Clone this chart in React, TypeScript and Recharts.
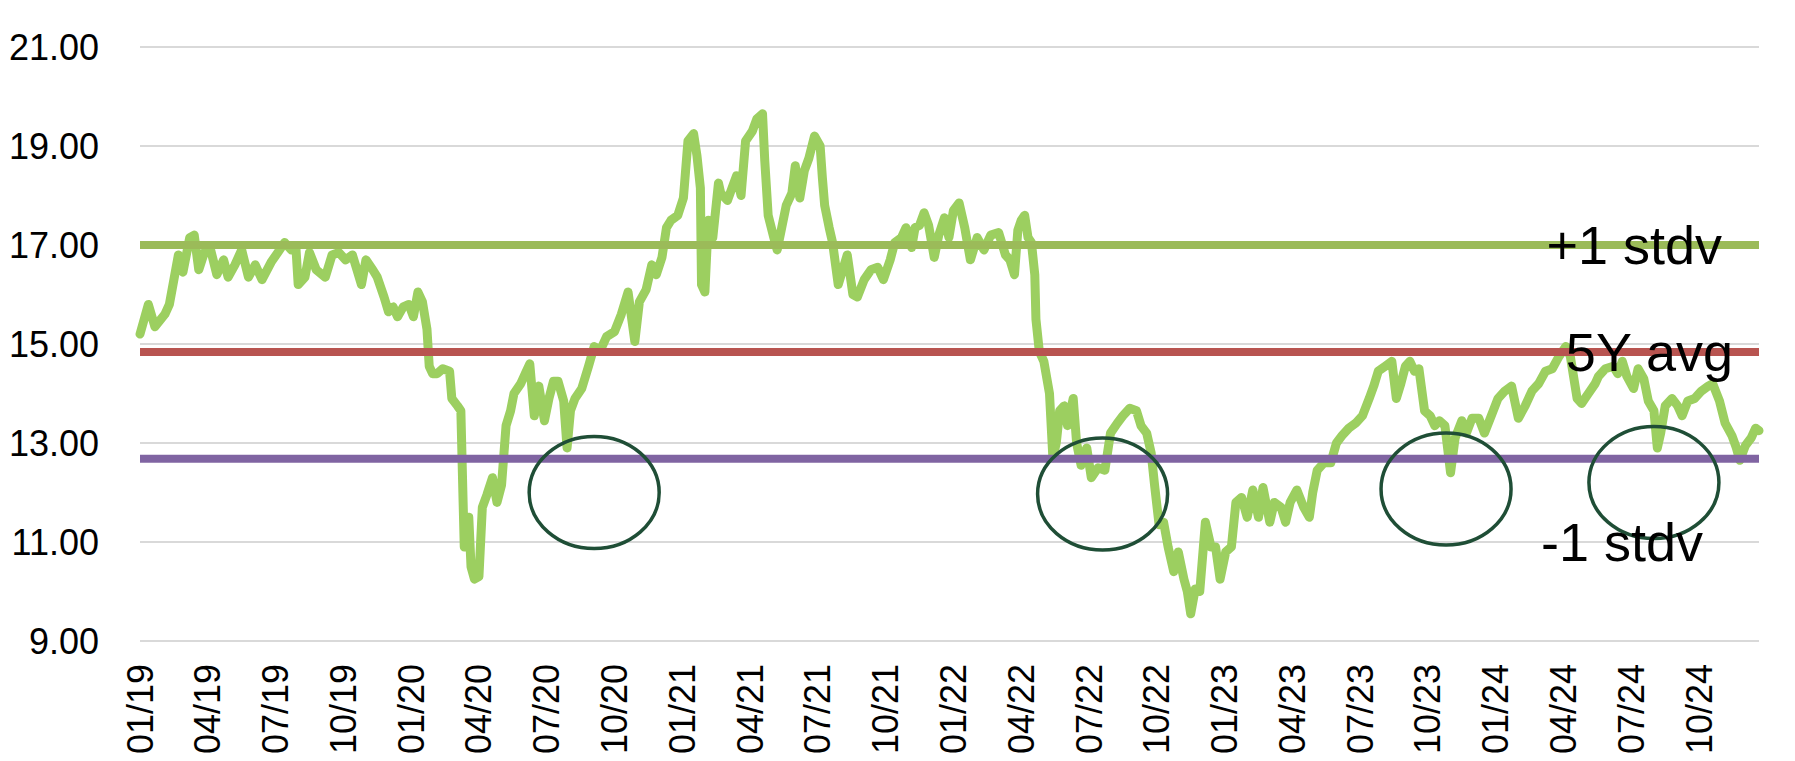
import React from 'react';
import { LineChart, Line, XAxis, YAxis, CartesianGrid, ReferenceLine, ReferenceDot } from 'recharts';

// months since Jan 2019 for each reading
const months = [
  0, 0.37, 0.66, 1.1, 1.3, 1.5, 1.7, 1.9, 2.2, 2.4, 2.6, 2.85, 3.1, 3.4, 3.7, 3.9, 4.2, 4.5, 4.8, 5.1,
  5.4, 5.8, 6.1, 6.4, 6.7, 6.9, 7.0, 7.3, 7.5, 7.8, 8.2, 8.5, 8.8, 9.1, 9.4, 9.6, 9.8, 10.0, 10.3, 10.5,
  10.8, 11.0, 11.2, 11.4, 11.65, 11.9, 12.1, 12.3, 12.5, 12.7, 12.8, 12.95, 13.15, 13.4, 13.7, 13.8, 14.05, 14.2, 14.3, 14.35,
  14.55, 14.65, 14.8, 15.0, 15.15, 15.35, 15.6, 15.8, 16.0, 16.2, 16.4, 16.55, 16.85, 17.05, 17.25, 17.45, 17.65, 17.9, 18.1, 18.3,
  18.5, 18.75, 18.9, 19.05, 19.25, 19.55, 19.85, 20.1, 20.35, 20.65, 21.0, 21.3, 21.6, 21.9, 22.1, 22.4, 22.65, 22.85, 23.1, 23.3,
  23.5, 23.8, 24.05, 24.25, 24.5, 24.65, 24.8, 24.85, 25.0, 25.15, 25.35, 25.6, 25.7, 26.0, 26.2, 26.4, 26.6, 26.8, 27.1, 27.3,
  27.55, 27.65, 27.8, 28.05, 28.2, 28.4, 28.6, 28.85, 29.0, 29.2, 29.4, 29.6, 29.85, 30.1, 30.2, 30.3, 30.5, 30.65, 30.9, 31.1,
  31.3, 31.55, 31.75, 32.05, 32.35, 32.65, 32.9, 33.2, 33.4, 33.7, 33.9, 34.15, 34.3, 34.5, 34.7, 34.9, 35.15, 35.35, 35.6, 35.8,
  36.0, 36.25, 36.5, 36.75, 37.05, 37.35, 37.65, 38.0, 38.3, 38.5, 38.7, 38.85, 39.0, 39.15, 39.3, 39.45, 39.6, 39.65, 39.8, 40.0,
  40.25, 40.4, 40.55, 40.7, 40.9, 41.05, 41.3, 41.45, 41.65, 41.9, 42.1, 42.4, 42.7, 42.95, 43.25, 43.5, 43.8, 44.1, 44.3, 44.55,
  44.75, 44.9, 45.1, 45.3, 45.5, 45.75, 45.95, 46.2, 46.35, 46.5, 46.7, 46.9, 47.15, 47.4, 47.6, 47.8, 48.05, 48.3, 48.5, 48.75,
  49.0, 49.25, 49.5, 49.7, 50.0, 50.2, 50.5, 50.7, 50.9, 51.2, 51.5, 51.75, 51.9, 52.1, 52.4, 52.7, 52.95, 53.2, 53.5, 53.8,
  54.1, 54.4, 54.6, 54.8, 55.1, 55.4, 55.6, 55.8, 56.0, 56.2, 56.4, 56.6, 56.85, 57.1, 57.3, 57.5, 57.75, 58.0, 58.2, 58.5,
  58.7, 58.95, 59.25, 59.5, 59.8, 60.1, 60.4, 60.7, 61.0, 61.3, 61.6, 61.9, 62.2, 62.5, 62.8, 63.1, 63.3, 63.6, 63.8, 64.1,
  64.4, 64.55, 64.85, 65.2, 65.4, 65.6, 65.8, 66.1, 66.3, 66.55, 66.75, 67.0, 67.15, 67.3, 67.5, 67.8, 68.05, 68.25, 68.5, 68.8,
  69.1, 69.4, 69.6, 69.9, 70.15, 70.45, 70.65, 70.8, 71.05, 71.3, 71.5, 71.65,
];

// forward P/E
const pe = [
  15.2, 15.8, 15.35, 15.6, 15.8, 16.3, 16.8, 16.45, 17.15, 17.2, 16.5, 16.85, 16.95, 16.4, 16.7, 16.35, 16.6, 16.9, 16.35, 16.6,
  16.3, 16.65, 16.85, 17.05, 16.9, 16.95, 16.2, 16.35, 16.85, 16.5, 16.35, 16.8, 16.85, 16.7, 16.8, 16.5, 16.2, 16.7, 16.5, 16.35,
  15.95, 15.65, 15.75, 15.55, 15.75, 15.8, 15.55, 16.05, 15.85, 15.3, 14.55, 14.4, 14.4, 14.5, 14.45, 13.9, 13.75, 13.65, 11.8, 10.9,
  11.5, 10.5, 10.25, 10.3, 11.7, 11.95, 12.3, 11.8, 12.15, 13.35, 13.65, 14.0, 14.2, 14.4, 14.6, 13.55, 14.15, 13.45, 13.9, 14.25,
  14.25, 13.85, 12.9, 13.65, 13.9, 14.1, 14.55, 14.95, 14.85, 15.15, 15.25, 15.6, 16.05, 15.05, 15.85, 16.1, 16.6, 16.4, 16.75, 17.35,
  17.5, 17.6, 17.95, 19.1, 19.25, 18.8, 18.15, 16.2, 16.05, 17.5, 17.15, 18.25, 18.05, 17.9, 18.15, 18.4, 18.0, 19.1, 19.3, 19.55,
  19.65, 18.7, 17.6, 17.15, 16.9, 17.35, 17.8, 18.05, 18.6, 17.95, 18.5, 18.75, 19.2, 19.0, 18.35, 17.8, 17.35, 17.05, 16.2, 16.5,
  16.8, 16.0, 15.95, 16.3, 16.5, 16.55, 16.3, 16.7, 17.05, 17.15, 17.35, 16.95, 17.35, 17.4, 17.65, 17.4, 16.75, 17.2, 17.55, 17.15,
  17.7, 17.85, 17.35, 16.7, 17.15, 16.9, 17.2, 17.25, 16.8, 16.7, 16.4, 17.3, 17.5, 17.6, 17.15, 17.05, 16.4, 15.5, 14.85, 14.65,
  14.0, 12.7, 13.0, 13.65, 13.75, 13.35, 13.9, 13.0, 12.55, 12.9, 12.3, 12.5, 12.45, 13.2, 13.4, 13.55, 13.7, 13.65, 13.35, 13.2,
  12.8, 12.15, 11.35, 11.4, 10.9, 10.4, 10.8, 10.25, 10.0, 9.55, 10.05, 10.0, 11.4, 10.9, 10.9, 10.25, 10.8, 10.9, 11.8, 11.9,
  11.5, 12.05, 11.5, 12.1, 11.4, 11.8, 11.7, 11.4, 11.8, 12.05, 11.7, 11.5, 12.0, 12.45, 12.6, 12.6, 13.0, 13.15, 13.3, 13.4,
  13.55, 13.9, 14.15, 14.45, 14.55, 14.65, 13.9, 14.2, 14.55, 14.65, 14.45, 14.5, 13.65, 13.55, 13.35, 13.45, 13.35, 12.4, 13.1, 13.45,
  13.2, 13.5, 13.5, 13.2, 13.55, 13.9, 14.05, 14.15, 13.5, 13.75, 14.05, 14.2, 14.45, 14.5, 14.75, 14.95, 14.75, 13.9, 13.8, 14.0,
  14.2, 14.35, 14.5, 14.55, 14.4, 14.65, 14.35, 14.1, 14.5, 14.3, 13.85, 13.65, 12.9, 13.2, 13.75, 13.9, 13.75, 13.55, 13.85, 13.9,
  14.05, 14.15, 14.2, 13.85, 13.4, 13.15, 12.9, 12.65, 12.95, 13.1, 13.3, 13.25,
];

const tickMonths = [0, 3, 6, 9, 12, 15, 18, 21, 24, 27, 30, 33, 36, 39, 42, 45, 48, 51, 54, 57, 60, 63, 66, 69];
const tickLabels = [
  '01/19', '04/19', '07/19', '10/19', '01/20', '04/20', '07/20', '10/20', '01/21', '04/21', '07/21', '10/21',
  '01/22', '04/22', '07/22', '10/22', '01/23', '04/23', '07/23', '10/23', '01/24', '04/24', '07/24', '10/24',
];
const yTicks = [9, 11, 13, 15, 17, 19, 21];

const plusStdv = 17.0;
const avg5y = 14.84;
const minusStdv = 12.68;

// circled dips: [month, value]
const circles = [
  [20.1, 12.0],
  [42.6, 11.97],
  [57.8, 12.07],
  [67.0, 12.2],
];

const data = months.map((m, i) => ({ m, pe: pe[i] }));

const FONT = '"Liberation Sans", Arial, sans-serif';

const XTick = (props: any) => {
  const { x, y, payload } = props;
  const idx = tickMonths.indexOf(payload.value);
  const ty = y + 15;
  return (
    <text
      x={x}
      y={ty}
      transform={`rotate(-90, ${x}, ${ty})`}
      textAnchor="end"
      dominantBaseline="central"
      fontSize={36}
      fontFamily={FONT}
      fill="#000"
    >
      {tickLabels[idx]}
    </text>
  );
};

const Ellipse = (props: any) => (
  <ellipse cx={props.cx} cy={props.cy} rx={65} ry={56} fill="none" stroke="#1f4e36" strokeWidth={3.5} />
);

const labelStyle = { fontSize: 54, fill: '#000', fontFamily: FONT };

const App: React.FC = () => {
  return (
    <div style={{ position: 'absolute', left: 0, top: 0 }}>
      <LineChart width={1795} height={761} data={data} margin={{ top: 47, right: 36, bottom: 0, left: 0 }}>
        <CartesianGrid vertical={false} stroke="#d9d9d9" strokeWidth={2} />
        <XAxis
          dataKey="m"
          type="number"
          domain={[0, 71.65]}
          ticks={tickMonths}
          interval={0}
          height={120}
          axisLine={false}
          tickLine={false}
          tick={<XTick />}
        />
        <YAxis
          domain={[9, 21]}
          ticks={yTicks}
          width={140}
          axisLine={false}
          tickLine={false}
          tickMargin={35}
          tickFormatter={(v: number) => v.toFixed(2)}
          tick={{ fontSize: 36, fill: '#000', fontFamily: FONT }}
        />
        <Line
          type="linear"
          dataKey="pe"
          stroke="#9ccf60"
          strokeWidth={9}
          strokeLinejoin="round"
          strokeLinecap="round"
          dot={false}
          isAnimationActive={false}
        />
        <ReferenceLine
          y={plusStdv}
          stroke="#9bbb59"
          strokeWidth={8}
          label={{ value: '+1 stdv', position: 'insideRight', offset: 37, ...labelStyle }}
        />
        <ReferenceLine
          y={avg5y}
          stroke="#b85450"
          strokeWidth={8}
          label={{ value: '5Y avg', position: 'insideRight', offset: 26, ...labelStyle }}
        />
        <ReferenceLine y={minusStdv} stroke="#8064a2" strokeWidth={8} />
        <ReferenceLine
          y={11}
          stroke="none"
          label={{ value: '-1 stdv', position: 'insideRight', offset: 56, ...labelStyle }}
        />
        {circles.map(([cm, cv], i) => (
          <ReferenceDot key={i} x={cm} y={cv} r={0} shape={<Ellipse />} />
        ))}
      </LineChart>
    </div>
  );
};

export default App;
